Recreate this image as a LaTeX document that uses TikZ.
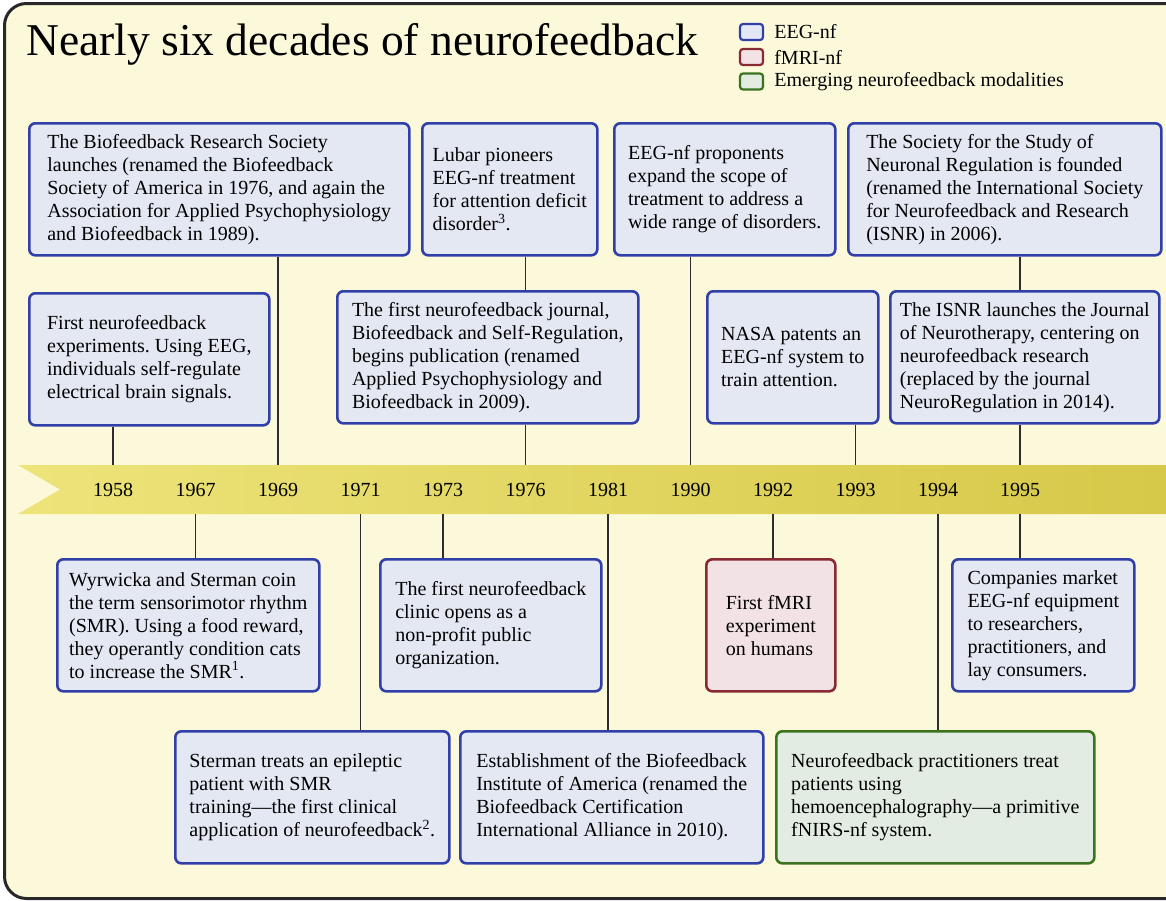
\documentclass[tikz,border=0pt]{standalone}
\usepackage{fontspec}
\setmainfont{Liberation Serif}
\usepackage{tikz}
\usetikzlibrary{positioning}
\frenchspacing

\definecolor{paper}{RGB}{252,248,218}
\definecolor{frameline}{RGB}{40,40,40}
\definecolor{eegline}{RGB}{48,64,168}
\definecolor{eegfill}{RGB}{228,232,243}
\definecolor{fmriline}{RGB}{135,42,52}
\definecolor{fmrifill}{RGB}{243,226,229}
\definecolor{emergline}{RGB}{60,115,32}
\definecolor{emergfill}{RGB}{226,236,226}
\definecolor{bandleft}{RGB}{237,228,122}
\definecolor{bandright}{RGB}{214,200,72}
\definecolor{stem}{RGB}{45,45,45}

\tikzset{
  event/.style={draw, line width=2.6pt, rounded corners=6pt, anchor=north west,
    minimum height=132pt, align=left, inner sep=0pt},
  eeg/.style={event, draw=eegline, fill=eegfill},
  fmri/.style={event, draw=fmriline, fill=fmrifill},
  emerg/.style={event, draw=emergline, fill=emergfill},
  key/.style={draw, line width=2.2pt, rounded corners=3pt, minimum width=23pt,
    minimum height=16pt, inner sep=0pt},
  year/.style={inner sep=0pt},
  stemline/.style={draw=stem, line width=1.2pt}
}

\begin{document}
\begin{tikzpicture}[x=1pt, y=-1pt, font=\fontsize{20}{23}\selectfont]
            \useasboundingbox (0,0) rectangle (1166,900);
            \fill[white] (0,0) rectangle (1166,900);

            % Frame
            \draw[line width=3pt, draw=frameline, fill=paper, rounded corners=22pt] (4.5,3.5) rectangle (1200,898.5);

            % Title and legend
            \node[anchor=base west, inner sep=0pt, font=\fontsize{45.5}{50}\selectfont] (title) at (26,55) {Nearly six decades of neurofeedback};
            \node[key, draw=eegline, fill=eegfill] (keyeeg) at (751.5,32) {};
            \node[right=10pt of keyeeg, inner sep=0pt] (keyeegtext) {EEG-nf};
            \node[key, draw=fmriline, fill=fmrifill] (keyfmri) at (751.5,57) {};
            \node[right=10pt of keyfmri, inner sep=0pt] (keyfmritext) {fMRI-nf};
            \node[key, draw=emergline, fill=emergfill] (keyemerg) at (751.5,81.5) {};
            \node[right=10pt of keyemerg, inner sep=0pt] (keyemergtext) {Emerging neurofeedback modalities};

            % Time band
            \shade[left color=bandleft, right color=bandright] (18,465) -- (1166,465) -- (1166,514) -- (18,514) -- (60,489.5) -- cycle;
            \coordinate (bandtop) at (0,465);
            \coordinate (bandbot) at (0,514);

            % Years
            \node[year] (yr1958) at (113,490) {1958};
            \node[year] (yr1967) at (195.5,490) {1967};
            \node[year] (yr1969) at (278,490) {1969};
            \node[year] (yr1971) at (360.5,490) {1971};
            \node[year] (yr1973) at (443,490) {1973};
            \node[year] (yr1976) at (525.5,490) {1976};
            \node[year] (yr1981) at (608,490) {1981};
            \node[year] (yr1990) at (690.5,490) {1990};
            \node[year] (yr1992) at (773,490) {1992};
            \node[year] (yr1993) at (855.5,490) {1993};
            \node[year] (yr1994) at (938,490) {1994};
            \node[year] (yr1995) at (1020,490) {1995};

            % Events above the band
            \node[eeg, minimum width=380pt] (bio) at (28,122) {The Biofeedback Research Society\\launches (renamed the Biofeedback\\Society of America in 1976, and again the\\Association for Applied Psychophysiology\\and Biofeedback in 1989).};
            \node[eeg, minimum width=175pt] (lubar) at (421,122) {Lubar pioneers\\EEG-nf treatment\\for attention deficit\\disorder\textsuperscript{3}.};
            \node[eeg, minimum width=221pt] (scope) at (613,122) {EEG-nf proponents\\expand the scope of\\treatment to address a\\wide range of disorders.};
            \node[eeg, minimum width=313pt] (ssnr) at (847,122) {The Society for the Study of\\Neuronal Regulation is founded\\(renamed the International Society\\for Neurofeedback and Research\\(ISNR) in 2006).};
            \node[eeg, minimum width=240pt] (first) at (28,292) {First neurofeedback\\experiments. Using EEG,\\individuals self-regulate\\electrical brain signals.};
            \node[eeg, minimum width=301pt] (journal) at (336,290) {The first neurofeedback journal,\\Biofeedback and Self-Regulation,\\begins publication (renamed\\Applied Psychophysiology and\\Biofeedback in 2009).};
            \node[eeg, minimum width=171pt] (nasa) at (706,290) {NASA patents an\\EEG-nf system to\\train attention.};
            \node[eeg, minimum width=269pt] (isnr) at (889,290) {The ISNR launches the Journal\\of Neurotherapy, centering on\\neurofeedback research\\(replaced by the journal\\NeuroRegulation in 2014).};

            % Events below the band
            \node[eeg, minimum width=262pt] (smr) at (56,558) {Wyrwicka and Sterman coin\\the term sensorimotor rhythm\\(SMR). Using a food reward,\\they operantly condition cats\\to increase the SMR\textsuperscript{1}.};
            \node[eeg, minimum width=221pt] (clinic) at (379,558) {The first neurofeedback\\clinic opens as a\\non-profit public\\organization.};
            \node[fmri, minimum width=129pt] (fmri) at (705,558) {First fMRI\\experiment\\on humans};
            \node[eeg, minimum width=182pt] (market) at (951,558) {Companies market\\EEG-nf equipment\\to researchers,\\practitioners, and\\lay consumers.};
            \node[eeg, minimum width=274pt] (sterman) at (174,730) {Sterman treats an epileptic\\patient with SMR\\training---the first clinical\\application of neurofeedback\textsuperscript{2}.};
            \node[eeg, minimum width=303pt] (bia) at (459,730) {Establishment of the Biofeedback\\Institute of America (renamed the\\Biofeedback Certification\\International Alliance in 2010).};
            \node[emerg, minimum width=318pt] (heg) at (775,730) {Neurofeedback practitioners treat\\patients using\\hemoencephalography---a primitive\\fNIRS-nf system.};

            % Stems to the band
            \draw[stemline] (yr1958 |- first.south) -- (yr1958 |- bandtop);
            \draw[stemline] (yr1967 |- bandbot) -- (yr1967 |- smr.north);
            \draw[stemline] (yr1969 |- bio.south) -- (yr1969 |- bandtop);
            \draw[stemline] (yr1971 |- bandbot) -- (yr1971 |- sterman.north);
            \draw[stemline] (yr1973 |- bandbot) -- (yr1973 |- clinic.north);
            \draw[stemline] (yr1976 |- lubar.south) -- (yr1976 |- journal.north);
            \draw[stemline] (yr1976 |- journal.south) -- (yr1976 |- bandtop);
            \draw[stemline] (yr1981 |- bandbot) -- (yr1981 |- bia.north);
            \draw[stemline] (yr1990 |- scope.south) -- (yr1990 |- bandtop);
            \draw[stemline] (yr1992 |- bandbot) -- (yr1992 |- fmri.north);
            \draw[stemline] (yr1993 |- nasa.south) -- (yr1993 |- bandtop);
            \draw[stemline] (yr1994 |- bandbot) -- (yr1994 |- heg.north);
            \draw[stemline] (yr1995 |- ssnr.south) -- (yr1995 |- isnr.north);
            \draw[stemline] (yr1995 |- isnr.south) -- (yr1995 |- bandtop);
            \draw[stemline] (yr1995 |- bandbot) -- (yr1995 |- market.north);
        \end{tikzpicture}
\end{document}
